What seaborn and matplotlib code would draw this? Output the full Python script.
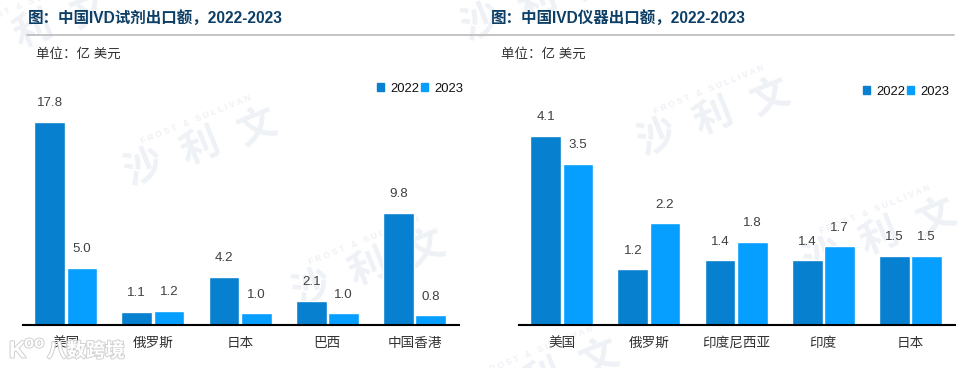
import matplotlib
matplotlib.use("Agg")
import matplotlib.pyplot as plt
from matplotlib.patches import Patch
from matplotlib.lines import Line2D
import matplotlib.patheffects as pe
import pandas as pd
import seaborn as sns

years = ["2022", "2023"]

# reagents
reagent_names = ["美国", "俄罗斯", "日本", "巴西", "中国香港"]
reagent_2022 = [17.8, 1.1, 4.2, 2.1, 9.8]
reagent_2023 = [5.0, 1.2, 1.0, 1.0, 0.8]

# instruments
device_names = ["美国", "俄罗斯", "印度尼西亚", "印度", "日本"]
device_2022 = [4.1, 1.2, 1.4, 1.4, 1.5]
device_2023 = [3.5, 2.2, 1.8, 1.7, 1.5]

title_left = "图：中国IVD试剂出口额，2022-2023"
title_right = "图：中国IVD仪器出口额，2022-2023"
unit_text = "单位：亿 美元"

W, H = 972, 368
DARK = "#0780cf"
LIGHT = "#069fff"
STAMP = "#eef1f5"
FONTS = ["Liberation Sans", "Noto Sans CJK SC"]

sns.set_theme(style="white")
plt.rcParams["font.family"] = FONTS

fig = plt.figure(figsize=(W / 100, H / 100), dpi=100)
fig.patch.set_facecolor("white")


def px(x, y):
    return x / W, 1 - y / H


def long_table(names, a, b):
    return pd.DataFrame({
        "name": names * 2,
        "year": [years[0]] * len(a) + [years[1]] * len(b),
        "value": a + b,
    })


def watermark(cx, cy):
    # faint company stamp, lies under the axes
    for txt, dx in [("沙", -57), ("利", 0), ("文", 57)]:
        fig.text(*px(cx + dx, cy - dx * 0.36), txt, fontsize=28, fontweight="bold",
                 color=STAMP, rotation=22, ha="center", va="center",
                 family=["Noto Sans CJK SC"], zorder=-2)
    fig.text(*px(cx - 4, cy - 27), "F R O S T   &   S U L L I V A N", fontsize=6.2,
             color=STAMP, rotation=22, ha="center", va="center", zorder=-2,
             fontweight="bold")


for c in [(200, 147), (713, 117), (368, 268), (879, 237), (33, 30), (537, 2), (542, 378)]:
    watermark(*c)


def panel(x0, x1, names, a, b, ymax, title, title_x, line_x0, line_x1, unit_x, legend_x, legend_y):
    base = 324.5
    top = 60
    ax = fig.add_axes([x0 / W, 1 - base / H, (x1 - x0) / W, (base - top) / H])
    ax.patch.set_alpha(0)
    sns.barplot(data=long_table(names, a, b), x="name", y="value", hue="year",
                palette=[DARK, LIGHT], width=0.74, gap=0.05, legend=False,
                saturation=1, ax=ax)
    ax.set_ylim(0, ymax)
    ax.set_xlim(-0.49, 4.51)
    ax.set_xlabel("")
    ax.set_ylabel("")
    ax.set_yticks([])
    ax.tick_params(axis="x", length=0, pad=8, labelsize=9.8, labelcolor="#333333")
    for s in ["top", "left", "right"]:
        ax.spines[s].set_visible(False)
    ax.spines["bottom"].set_color("black")
    ax.spines["bottom"].set_linewidth(1.5)
    for container in ax.containers:
        ax.bar_label(container, fmt="%.1f", padding=9, fontsize=9.6, color="#404040")

    fig.text(*px(title_x, 18), title, fontsize=11.2, fontweight="bold", color="#0d3f66",
             ha="left", va="center")
    fig.add_artist(Line2D([line_x0 / W, line_x1 / W], [1 - 34.5 / H] * 2, color="#bfbfbf", lw=1.3))
    fig.text(*px(unit_x, 54), unit_text, fontsize=9.7, color="#333333", ha="left", va="center")

    handles = [Patch(color=DARK, label=years[0]), Patch(color=LIGHT, label=years[1])]
    leg = fig.legend(handles=handles, loc="center right", frameon=False, ncol=2,
                     bbox_to_anchor=px(legend_x, legend_y), fontsize=9.4,
                     handlelength=0.55, handleheight=0.55, handletextpad=0.45,
                     columnspacing=0.15, borderpad=0, borderaxespad=0)
    for t in leg.get_texts():
        t.set_color("#111111")


panel(23, 459, reagent_names, reagent_2022, reagent_2023, 264.5 / 11.4,
      title_left, 28, 27, 486, 36, 463, 89)
panel(519, 955, device_names, device_2022, device_2023, 264.5 / 46,
      title_right, 491, 486, 954, 501, 949, 92)

# site stamp in the lower left corner
stamp = [pe.withStroke(linewidth=1.4, foreground="#d0d0d0")]
fig.text(*px(47, 351), "八数跨境", fontsize=14, fontweight="bold", color="white",
         ha="left", va="center", family=["Noto Sans CJK SC"], path_effects=stamp)
fig.text(*px(9, 351), "K", fontsize=17, fontweight="bold", color="white",
         ha="left", va="center", path_effects=stamp)
fig.text(*px(24, 343), "oo", fontsize=12, fontweight="bold", color="white",
         ha="left", va="center", path_effects=stamp)

fig.savefig("out.png", dpi=100)
